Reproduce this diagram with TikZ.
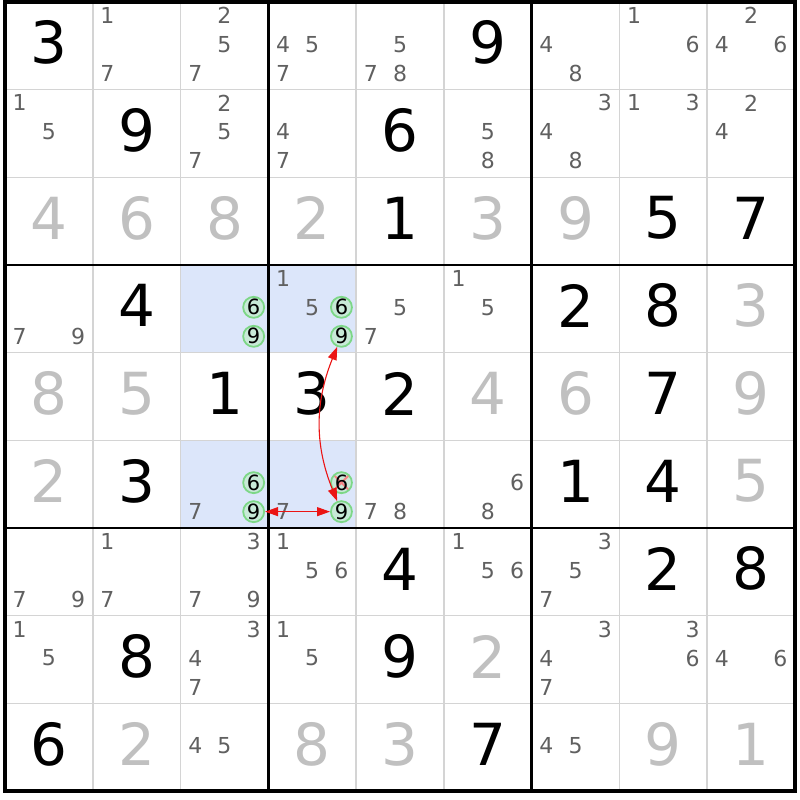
\documentclass[tikz,border=0pt]{standalone}
\usepackage{fontspec}
\setmainfont{DejaVu Sans}
\usetikzlibrary{arrows.meta}
\definecolor{hl}{RGB}{220,230,250}
\definecolor{thinc}{RGB}{212,212,212}
\definecolor{candc}{RGB}{96,96,96}
\definecolor{solvedc}{RGB}{192,192,192}
\definecolor{ringc}{RGB}{125,215,135}
\definecolor{ringf}{RGB}{200,234,216}
\definecolor{arrowc}{RGB}{235,20,20}
\definecolor{crossc}{RGB}{245,135,135}
\begin{document}
\begin{tikzpicture}[x=1pt,y=-1pt,
  given/.style={inner sep=0pt, font=\fontsize{58}{58}\selectfont, text=black},
  solved/.style={given, text=solvedc},
  cand/.style={inner sep=0pt, font=\fontsize{22}{22}\selectfont, text=candc},
  ring/.style={circle, inner sep=0pt, minimum size=21pt, draw=ringc, fill=ringf, line width=1.8pt, font=\fontsize{21}{21}\selectfont, text=black},
  struck/.style={path picture={\draw[crossc, line width=2pt] (path picture bounding box.north west) -- (path picture bounding box.south east) (path picture bounding box.north east) -- (path picture bounding box.south west);}},
  link/.style={draw=arrowc, line width=1.1pt, {Triangle[length=13pt,width=9pt]}-{Triangle[length=13pt,width=9pt]}},
  thinline/.style={draw=thinc, line width=1.6pt},
  boxline/.style={draw=black, line width=2.8pt, line cap=rect},
]
\useasboundingbox (0,0) rectangle (800,800);
\fill[white] (0,0) rectangle (800,800);
% highlighted cells
\foreach \r/\c in {4/3,4/4,6/3,6/4}{
  \fill[hl] ({5+(\c-1)*87.78},{2+(\r-1)*87.67}) rectangle ++(87.78,87.67);
}
% grid
\foreach \i in {1,2,4,5,7,8}{
  \draw[thinline] ({5+\i*87.78},2) -- ({5+\i*87.78},791);
  \draw[thinline] (5,{2+\i*87.67}) -- (795,{2+\i*87.67});
}
\foreach \i in {3,6}{
  \draw[boxline] ({5+\i*87.78},2) -- ({5+\i*87.78},791);
  \draw[boxline] (5,{2+\i*87.67}) -- (795,{2+\i*87.67});
}
\draw[boxline, line width=3.2pt] (5,2) rectangle (795,791);
% given digits
\foreach \r/\c/\d in {1/1/3,1/6/9,2/2/9,2/5/6,3/5/1,3/8/5,3/9/7,4/2/4,4/7/2,4/8/8,5/3/1,5/4/3,5/5/2,5/8/7,6/2/3,6/7/1,6/8/4,7/5/4,7/8/2,7/9/8,8/2/8,8/5/9,9/1/6,9/6/7}{
  \node[given] (g\r\c) at ({5+(\c-0.5)*87.78},{2+(\r-0.5)*87.67-3}) {\d};
}
% solved digits
\foreach \r/\c/\d in {3/1/4,3/2/6,3/3/8,3/4/2,3/6/3,3/7/9,4/9/3,5/1/8,5/2/5,5/6/4,5/7/6,5/9/9,6/1/2,6/9/5,8/6/2,9/2/2,9/4/8,9/5/3,9/8/9,9/9/1}{
  \node[solved] (s\r\c) at ({5+(\c-0.5)*87.78},{2+(\r-0.5)*87.67-3}) {\d};
}
% candidates
\foreach \r/\c/\L in {1/2/{1,7},1/3/{2,5,7},1/4/{4,5,7},1/5/{5,7,8},1/7/{4,8},1/8/{1,6},1/9/{2,4,6},
  2/1/{1,5},2/3/{2,5,7},2/4/{4,7},2/6/{5,8},2/7/{3,4,8},2/8/{1,3},2/9/{2,4},
  4/1/{7,9},4/4/{1,5},4/5/{5,7},4/6/{1,5},
  6/3/{7},6/4/{7},6/5/{7,8},6/6/{6,8},
  7/1/{7,9},7/2/{1,7},7/3/{3,7,9},7/4/{1,5,6},7/6/{1,5,6},7/7/{3,5,7},
  8/1/{1,5},8/3/{3,4,7},8/4/{1,5},8/7/{3,4,7},8/8/{3,6},8/9/{4,6},
  9/3/{4,5},9/7/{4,5}}{
  \foreach \d in \L {
    \pgfmathsetmacro\px{5+(\c-1)*87.78+43.9+(mod(\d-1,3)-1)*29.2}
    \pgfmathsetmacro\py{2+(\r-1)*87.67+42.3+(int((\d-1)/3)-1)*29}
    \node[cand] (c\r\c\d) at (\px,\py) {\d};
  }
}
% circled candidates
\foreach \r/\c/\d/\k in {4/3/6/{},4/3/9/{},4/4/6/{},4/4/9/{},6/3/6/{},6/3/9/{},6/4/6/struck,6/4/9/{}}{
  \pgfmathsetmacro\px{5+(\c-1)*87.78+43.9+(mod(\d-1,3)-1)*29.2}
  \pgfmathsetmacro\py{2+(\r-1)*87.67+42.3+(int((\d-1)/3)-1)*29}
  \node[ring,\k] (r\r\c\d) at (\px,\py) {\d};
}
% links
\draw[link] (r449) to[bend right=22] (r649);
\draw[link] (r639) -- (r649);
\end{tikzpicture}
\end{document}
